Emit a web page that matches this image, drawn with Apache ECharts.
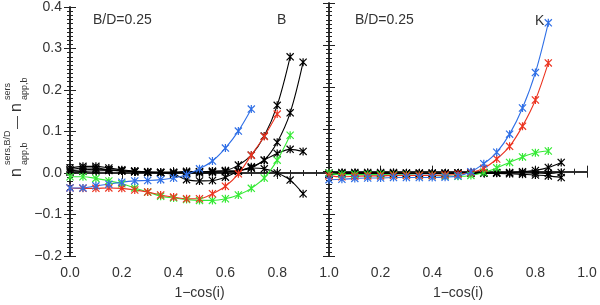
<!DOCTYPE html>
<html>
<head>
<meta charset="utf-8">
<script src="https://cdn.jsdelivr.net/npm/echarts@6/dist/echarts.min.js"></script>
<style>html,body{margin:0;padding:0;background:#fff;}#c{width:600px;height:305px;}</style>
</head>
<body>
<div id="c"></div>
<script>
// x positions: 1 - cos(i)
const incl = [0.00,0.05,0.10,0.15,0.20,0.25,0.30,0.35,0.40,0.45,0.50,0.55,0.60,0.65,0.70,0.75,0.80,0.85,0.90];

// B band panel
const bBlue   = [-0.036,-0.036,-0.031,-0.027,-0.022,-0.019,-0.018,-0.016,-0.012,-0.004,0.010,0.029,0.060,0.101,0.154];
const bRed    = [-0.036,-0.037,-0.037,-0.036,-0.037,-0.041,-0.046,-0.053,-0.058,-0.062,-0.062,-0.050,-0.032,-0.002,0.043,0.088,0.142];
const bGreen  = [-0.009,-0.009,-0.013,-0.019,-0.026,-0.036,-0.046,-0.056,-0.060,-0.064,-0.066,-0.066,-0.062,-0.053,-0.037,-0.012,0.031,0.091];
const bBlack1 = [0.012,0.016,0.016,0.012,0.008,0.005,0.003,0.002,0.002,0.004,0.003,0.004,0.006,0.019,0.043,0.089,0.163,0.280];
const bBlack2 = [0.005,0.008,0.009,0.008,0.006,0.003,0.002,0.001,0.000,0.000,0.000,0.001,0.003,0.005,0.015,0.031,0.074,0.145,0.267];
const bBlack3 = [0.002,0.004,0.005,0.006,0.005,0.004,0.002,0.001,0.001,0.002,0.003,0.004,0.005,0.006,0.012,0.031,0.047,0.057,0.052];
const bBlack4 = [0.008,0.012,0.012,0.008,0.005,0.003,0.001,0.000,-0.003,-0.016,-0.019,-0.018,-0.010,0.004,0.012,0.010,0.000,-0.017,-0.050];

// K band panel
const kBlue   = [-0.019,-0.018,-0.016,-0.015,-0.015,-0.014,-0.014,-0.014,-0.014,-0.013,-0.010,0.000,0.019,0.046,0.089,0.151,0.235,0.353];
const kRed    = [-0.010,-0.012,-0.011,-0.010,-0.010,-0.009,-0.009,-0.009,-0.009,-0.008,-0.006,-0.002,0.008,0.030,0.060,0.108,0.170,0.258];
const kGreen  = [-0.004,-0.007,-0.007,-0.007,-0.007,-0.008,-0.008,-0.009,-0.009,-0.010,-0.011,-0.009,-0.002,0.009,0.022,0.035,0.045,0.049];
const kBlack1 = [-0.003,-0.002,-0.002,-0.002,-0.002,-0.002,-0.003,-0.003,-0.003,-0.003,-0.003,-0.002,-0.002,-0.002,-0.002,0.000,0.003,0.010,0.022];
const kBlack2 = [-0.006,-0.004,-0.004,-0.004,-0.004,-0.004,-0.004,-0.004,-0.004,-0.004,-0.003,-0.003,-0.003,-0.003,-0.003,-0.003,-0.003,-0.004,-0.002];
const kBlack3 = [-0.007,-0.005,-0.005,-0.005,-0.005,-0.005,-0.005,-0.005,-0.005,-0.005,-0.004,-0.004,-0.004,-0.004,-0.005,-0.006,-0.008,-0.010,-0.014];

const xTicks = [0.0,0.2,0.4,0.6,0.8,1.0];
const yTicks = [-0.2,-0.1,0.0,0.1,0.2,0.3,0.4];
const panelLabels = ['B','K'];
const ratioLabel = 'B/D=0.25';
const xTitle = '1\u2212cos(i)';

const COLORS = {blue:'#2f6fe6', red:'#ec3420', green:'#35ea35', black:'#000000'};
const FONT = 'Liberation Sans';
const star = 'path://M4.25,0 L5.75,0 L5.75,10 L4.25,10 Z M0,1.05 L1.05,0 L10,8.95 L8.95,10 Z M10,1.05 L1.05,10 L0,8.95 L8.95,0 Z';

function pts(arr){ return arr.map((v,i)=>[incl[i], v]); }
function ser(arr, color, gi){
  return {type:'line', xAxisIndex: gi*2, yAxisIndex: gi*2, data: pts(arr),
    smooth: 0.35, symbol: star, symbolSize: 8, showSymbol:true,
    lineStyle:{color:color, width:1.1}, itemStyle:{color:color}, z: color==='#000000'?2:3, animation:false};
}
function fmt(v){ return v.toFixed(1).replace('-', '\u2212'); }

const axisLine = {show:true, lineStyle:{color:'#222', width:1.5}};
function xAx(gi, pos, labels){
  return {type:'value', gridIndex:gi, position:pos, min:0, max:1, interval:0.2,
    axisLine: axisLine,
    axisTick:{show:true, inside:true, length:6, lineStyle:{color:'#222'}},
    minorTick:{show:true, splitNumber:4, length:3, lineStyle:{color:'#222'}},
    splitLine:{show:false},
    axisLabel:{show:labels, margin:10, fontSize:14, color:'#333', fontFamily:FONT,
      showMinLabel: gi===0, formatter: v => xTicks.includes(+v.toFixed(1)) ? v.toFixed(1) : ''},
    name: labels ? xTitle : '', nameLocation:'middle', nameGap:30,
    nameTextStyle:{fontSize:14, color:'#333', fontFamily:FONT}};
}
function yAx(gi, pos, labels){
  return {type:'value', gridIndex:gi, position:pos, min:-0.2, max:0.4, interval:0.1,
    axisLine: axisLine,
    axisTick:{show:true, inside:true, length:6, lineStyle:{color:'#222'}},
    minorTick:{show:true, splitNumber:10, length:3, lineStyle:{color:'#222'}},
    splitLine:{show:false},
    axisLabel:{show:labels, margin:8, fontSize:14, color:'#333', fontFamily:FONT,
      formatter: v => yTicks.some(t=>Math.abs(t-v)<1e-9) ? fmt(v) : ''}};
}

const txt = (x,y,s,size,rot,align) => ({type:'text', x:x, y:y, rotation: rot||0,
  style:{text:s, fontSize:size, fill:'#333', fontFamily:FONT, align: align||'left', verticalAlign:'middle'}});
const R = Math.PI/2;

const option = {
  backgroundColor:'#fff',
  animation:false,
  grid:[{left:70, right:271, top:3, bottom:44},{left:329, right:13, top:3, bottom:44}],
  xAxis:[xAx(0,'bottom',true), xAx(0,'top',false), xAx(1,'bottom',true), xAx(1,'top',false)],
  yAxis:[yAx(0,'left',true), yAx(0,'right',false), yAx(1,'left',false), yAx(1,'right',false)],
  series:[
    ser(bBlack1,COLORS.black,0), ser(bBlack2,COLORS.black,0), ser(bBlack3,COLORS.black,0), ser(bBlack4,COLORS.black,0),
    ser(bGreen,COLORS.green,0), ser(bRed,COLORS.red,0), ser(bBlue,COLORS.blue,0),
    ser(kBlack1,COLORS.black,1), ser(kBlack2,COLORS.black,1), ser(kBlack3,COLORS.black,1),
    ser(kGreen,COLORS.green,1), ser(kRed,COLORS.red,1), ser(kBlue,COLORS.blue,1)
  ],
  graphic:[
    txt(93,20,ratioLabel,14), txt(277,20,panelLabels[0],14),
    txt(355,20,ratioLabel,14), txt(535,21,panelLabels[1],14),
    // rotated y-axis title
    txt(17,177,'n',16,R), txt(8,165,'sers,B/D',9,R), txt(25,165,'app,b',9,R),
    txt(17,129,'\u2014',13,R),
    txt(17,112,'n',16,R), txt(8,100,'sers',9,R), txt(25,100,'app,b',9,R)
  ]
};
const chart = echarts.init(document.getElementById('c'), null, {renderer:'canvas'});
chart.setOption(option);
</script>
</body>
</html>
